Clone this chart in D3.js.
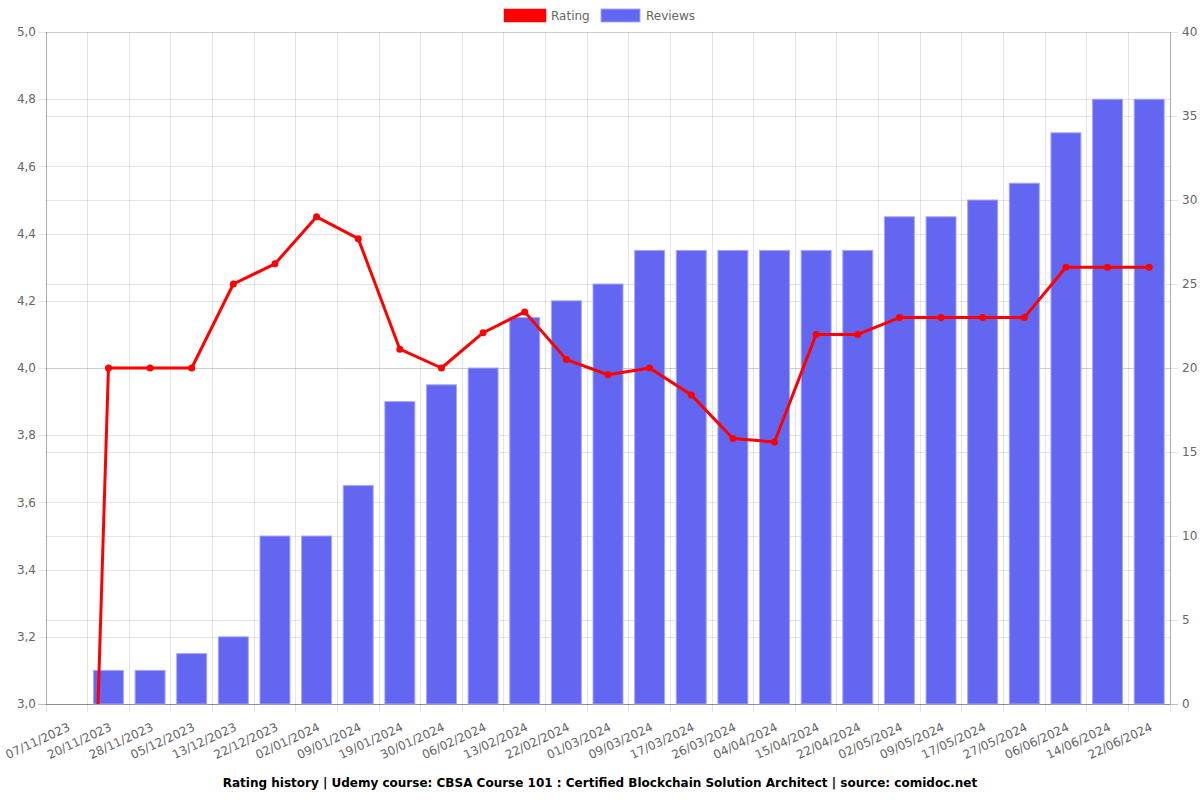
<!DOCTYPE html>
<html><head><meta charset="utf-8">
<script src="https://cdn.jsdelivr.net/npm/d3@7"></script>
<style>body{margin:0;background:#fff}svg{display:block;font-family:"DejaVu Sans",sans-serif}</style>
</head><body><svg id="c" width="1200" height="800"></svg>
<script>
const categories = ["07/11/2023","20/11/2023","28/11/2023","05/12/2023","13/12/2023","22/12/2023","02/01/2024","09/01/2024","19/01/2024","30/01/2024","06/02/2024","13/02/2024","22/02/2024","01/03/2024","09/03/2024","17/03/2024","26/03/2024","04/04/2024","15/04/2024","22/04/2024","02/05/2024","09/05/2024","17/05/2024","27/05/2024","06/06/2024","14/06/2024","22/06/2024"];
const rating = [0,4.0,4.0,4.0,4.25,4.31,4.45,4.385,4.056,4.0,4.105,4.167,4.025,3.98,4.0,3.92,3.79,3.78,4.1,4.1,4.15,4.15,4.15,4.15,4.3,4.3,4.3];
const reviews = [0,2,2,3,4,10,10,13,18,19,20,23,24,25,27,27,27,27,27,27,29,29,30,31,34,36,36];
const leftTicks = [3.0,3.2,3.4,3.6,3.8,4.0,4.2,4.4,4.6,4.8,5.0];
const rightTicks = [0,5,10,15,20,25,30,35,40];
const title = "Rating history | Udemy course: CBSA Course 101 : Certified Blockchain Solution Architect | source: comidoc.net";

const svg = d3.select("#c");
const L=46, R=1170, T=32, B=704;
const x = d3.scaleBand().domain(categories).range([L,R]);
const yL = d3.scaleLinear().domain([3,5]).range([B,T]);
const yR = d3.scaleLinear().domain([0,40]).range([B,T]);
const grid = "rgba(0,0,0,0.1)";

const bounds = categories.map(c=>x(c)).concat([R]);
svg.append("g").selectAll("line").data(bounds).join("line")
  .attr("x1",d=>d).attr("x2",d=>d).attr("y1",T).attr("y2",B+8)
  .attr("stroke",grid).attr("shape-rendering","crispEdges");
svg.append("g").selectAll("line").data(leftTicks).join("line")
  .attr("x1",L-8).attr("x2",R).attr("y1",d=>Math.round(yL(d))+0.5).attr("y2",d=>Math.round(yL(d))+0.5)
  .attr("stroke",d=>d===3?"rgba(0,0,0,0.25)":grid);
svg.append("g").selectAll("line").data(rightTicks).join("line")
  .attr("x1",L).attr("x2",R+8).attr("y1",d=>Math.round(yR(d))+0.5).attr("y2",d=>Math.round(yR(d))+0.5)
  .attr("stroke",d=>d===0?"rgba(0,0,0,0.25)":grid);
svg.append("line").attr("x1",L+0.5).attr("x2",L+0.5).attr("y1",T).attr("y2",B).attr("stroke","rgba(0,0,0,0.25)");
svg.append("line").attr("x1",R+0.5).attr("x2",R+0.5).attr("y1",T).attr("y2",B).attr("stroke","rgba(0,0,0,0.25)");

svg.append("g").selectAll("text").data(leftTicks).join("text")
  .attr("x",L-10).attr("y",d=>yL(d)).attr("dy","0.35em").attr("text-anchor","end")
  .attr("font-size",12).attr("fill","#666").text(d=>d.toFixed(1).replace(".",","));
svg.append("g").selectAll("text").data(rightTicks).join("text")
  .attr("x",R+12).attr("y",d=>yR(d)).attr("dy","0.35em").attr("text-anchor","start")
  .attr("font-size",12).attr("fill","#666").text(d=>d);
svg.append("g").selectAll("text").data(categories).join("text")
  .attr("transform",d=>`translate(${x(d)+x.bandwidth()/2+4},${B+26}) rotate(-25)`)
  .attr("text-anchor","end")
  .attr("font-size",12).attr("fill","#666").text(d=>d);

const bw = x.bandwidth()*0.72;
svg.append("g").selectAll("rect").data(reviews).join("rect")
  .attr("x",(d,i)=>x(categories[i])+x.bandwidth()/2-bw/2)
  .attr("width",bw)
  .attr("y",d=>yR(d)).attr("height",d=>B-yR(d))
  .attr("fill","#6366f1").attr("stroke","#a5a7f7").attr("stroke-width",1)
  .style("display",d=>d>0?null:"none");

svg.append("clipPath").attr("id","clip").append("rect").attr("x",L).attr("y",T-5).attr("width",R-L).attr("height",B-T+5);
const cx = i=>x(categories[i])+x.bandwidth()/2;
const line = d3.line().x((d,i)=>cx(i)).y(d=>yL(d));
const lg = svg.append("g").attr("clip-path","url(#clip)");
lg.append("path").datum(rating).attr("d",line).attr("fill","none").attr("stroke","#ff0000").attr("stroke-width",3).attr("stroke-linejoin","round");
lg.selectAll("circle").data(rating).join("circle")
  .attr("cx",(d,i)=>cx(i)).attr("cy",d=>yL(d)).attr("r",3.5).attr("fill","#ff0000");

const leg = svg.append("g");
leg.append("rect").attr("x",504).attr("y",9).attr("width",42).attr("height",13).attr("fill","#ff0000").attr("stroke","rgba(255,0,0,0.5)");
leg.append("text").attr("x",551).attr("y",16).attr("dy","0.35em").attr("font-size",12).attr("fill","#666").text("Rating");
leg.append("rect").attr("x",601).attr("y",9).attr("width",39).attr("height",13).attr("fill","#6366f1").attr("stroke","#a5a7f7");
leg.append("text").attr("x",646).attr("y",16).attr("dy","0.35em").attr("font-size",12).attr("fill","#666").text("Reviews");

svg.append("text").attr("x",600).attr("y",783).attr("dy","0.35em").attr("text-anchor","middle")
  .attr("font-size",12).attr("font-weight","bold").attr("fill","#000").text(title);
</script></body></html>
